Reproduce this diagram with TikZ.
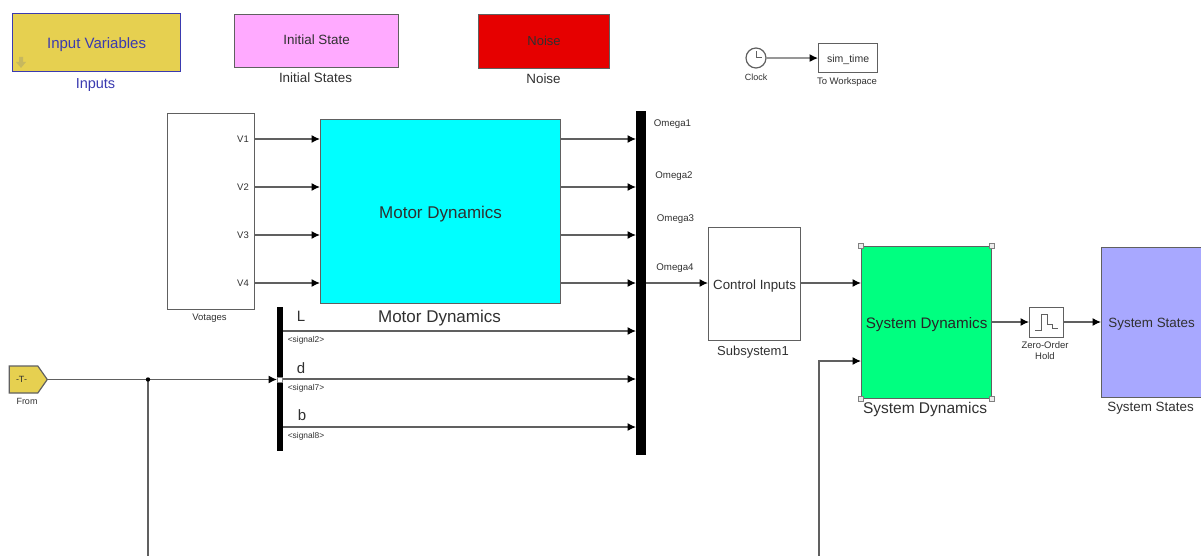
\documentclass[tikz,border=0pt]{standalone}
\usepackage{fontspec}
\setmainfont{Liberation Sans}
\usetikzlibrary{arrows.meta,shapes.geometric,shapes.symbols}
\definecolor{lineC}{HTML}{606060}
\definecolor{txtC}{HTML}{303030}
\definecolor{inputY}{HTML}{E6D050}
\definecolor{inputB}{HTML}{3A3AB0}
\definecolor{pinkC}{HTML}{FFAAFF}
\definecolor{redC}{HTML}{E60000}
\definecolor{greenC}{HTML}{00FF80}
\definecolor{violetC}{HTML}{A8A8FF}
\definecolor{cyanC}{HTML}{00FFFF}
\tikzset{
  x=1pt,y=-1pt,
  blockbox/.style={draw=lineC,line width=1.2pt,inner sep=0pt,anchor=north west,align=center,text=txtC},
  lbl/.style={inner sep=0pt,text=txtC,font=\fontsize{#1}{#1}\selectfont},
  lbl/.default=8,
  wire/.style={draw=lineC,line width=1.2pt},
  arr/.style={wire,-{Latex[length=8.5pt,width=8pt,black]}},
  handle/.style={draw=gray,fill=white!85!gray,line width=.7pt,minimum size=5pt,inner sep=0pt},
}
\newcommand{\blk}[7]{% name, x1, y1, x2, y2, style, text
  \pgfmathsetmacro{\bw}{#4-#2}\pgfmathsetmacro{\bh}{#5-#3}
  \node[blockbox,#6,minimum width=\bw pt,minimum height=\bh pt] (#1) at (#2,#3) {\raisebox{\dimexpr-0.36em-0.3pt}[0pt][0pt]{#7}};}
\begin{document}
\begin{tikzpicture}
\useasboundingbox (0,0) rectangle (1201,556);
% top row blocks
\blk{inputs}{12}{13}{180}{71}{fill=inputY,draw=inputB,text=inputB,font=\fontsize{15}{15}\selectfont}{Input Variables}
\node[lbl=14.5,text=inputB] (inputsL) at (95.5,85) {Inputs};
\fill[inputY!70!gray] (19,57) -- (23,57) -- (23,62) -- (26,62) -- (21,68) -- (16,62) -- (19,62) -- cycle;
\blk{initial}{234}{14}{398}{67}{fill=pinkC,font=\fontsize{13.4}{13.4}\selectfont}{\raisebox{2pt}{Initial State}}
\node[lbl=13.4] (initialL) at (315.5,78) {Initial States};
\blk{noise}{478}{14}{609}{68}{fill=redC,font=\fontsize{13}{13}\selectfont}{\raisebox{1pt}{Noise}}
\node[lbl=13.4] (noiseL) at (543.5,79) {Noise};
\node[draw=lineC,line width=1.2pt,circle,minimum size=20pt,inner sep=0pt] (clock) at (756,58) {};
\node[lbl=9] (clockL) at (756,77) {Clock};
\draw[lineC,line width=1pt] (756,51) -- (clock.center) -- (762,58);
\blk{work}{818}{43}{877}{72}{fill=white,font=\fontsize{10.5}{10.5}\selectfont}{sim\_time}
\node[lbl=9.5] (workL) at (847,82) {To Workspace};
\draw[arr] (clock) -- (work);
% main blocks
\blk{volt}{167}{113}{254}{309}{fill=white}{}
\node[lbl=9.5] (voltL) at (209.5,318) {Votages};
\blk{motor}{320}{119}{560}{303}{fill=cyanC,font=\fontsize{17}{17}\selectfont}{Motor Dynamics}
\node[lbl=17] (motorL) at (439.5,318) {Motor Dynamics};
\node[fill=black,minimum width=10pt,minimum height=344pt,inner sep=0pt,anchor=north west] (mux) at (636,111) {};
\node[fill=black,minimum width=6pt,minimum height=144pt,inner sep=0pt,anchor=north west] (bus) at (277,307) {};
\blk{ctrl}{708}{227}{800}{340}{fill=white,font=\fontsize{13.3}{13.3}\selectfont}{Control Inputs}
\node[lbl=13] (ctrlL) at (753,352) {Subsystem1};
\blk{sys}{861}{246}{991}{398}{fill=greenC,text=black!85,font=\fontsize{15.2}{15.2}\selectfont}{System Dynamics}
\node[lbl=15.5] (sysL) at (925,409.5) {System Dynamics};
\foreach \n/\a in {h1/north west,h2/north east,h3/south west,h4/south east}
  \node[handle] (\n) at (sys.\a) {};
\blk{zoh}{1029}{307}{1063}{337}{fill=white}{}
\draw[lineC,line width=1pt] (1035,330) -- (1041,330) -- (1041,314) -- (1047,314) -- (1047,324) -- (1052,324) -- (1052,328) -- (1058,328);
\node[lbl=9.5,align=center] (zohL) at (1045,350.5) {Zero-Order\\[1pt]Hold};
\blk{states}{1101}{247}{1201}{397}{fill=violetC,font=\fontsize{13.4}{13.4}\selectfont}{System States}
\node[lbl=13.4] (statesL) at (1150.5,408.5) {System States};
% From
\node[signal,signal to=east,signal pointer angle=110,draw=lineC,line width=1.2pt,fill=inputY,inner sep=0pt,minimum width=38pt,minimum height=27pt,anchor=east] (from) at (48,379.5) {};
\node[lbl=9] (fromT) at (21.5,379) {-T-};
\node[lbl=9] (fromL) at (27,401) {From};
% port coordinates
\foreach \i/\y in {1/139,2/187,3/235,4/283}{
  \coordinate (vo\i) at (254,\y);
  \coordinate (mi\i) at (320,\y);
  \coordinate (mo\i) at (560,\y);
  \coordinate (xi\i) at (636,\y);
  \node[lbl=9.5] (vl\i) at (243,\y) {V\i};
  \draw[arr] (vo\i) -- (mi\i);
  \draw[arr] (mo\i) -- (xi\i);
}
\foreach \i/\y/\t/\s/\tx/\ty in {5/331/L/2/301/316,6/379/d/7/301/368,7/427/b/8/302/415.5}{
  \coordinate (bo\i) at (283,\y);
  \coordinate (xi\i) at (636,\y);
  \draw[arr] (bo\i) -- (xi\i);
  \pgfmathsetmacro{\sy}{\y+9}
  \node[lbl=15] (t\i) at (\tx,\ty) {\t};
  \node[lbl=8.4] (s\i) at (306,\sy) {<signal\s>};
}
\node[lbl=9.7] (om1) at (672.5,123.7) {Omega1};
\node[lbl=9.7] (om2) at (674,175.7) {Omega2};
\node[lbl=9.7] (om3) at (675.5,219) {Omega3};
\node[lbl=9.7] (om4) at (675,268) {Omega4};
% outgoing wires
\coordinate (xo) at (646,283);
\coordinate (ci) at (708,283);
\coordinate (co) at (800,283);
\coordinate (si1) at (861,283);
\coordinate (si2) at (861,361);
\coordinate (so) at (991,322);
\coordinate (zi) at (1029,322);
\coordinate (zo) at (1063,322);
\coordinate (sti) at (1101,322);
\coordinate (b1) at (819,556);
\coordinate (b2) at (819,361);
\coordinate (bi) at (277,379.5);
\coordinate (j) at (148,379.5);
\coordinate (b3) at (148,556);
\draw[arr] (xo) -- (ci);
\draw[arr] (co) -- (si1);
\draw[arr] (b1) -- (b2) -- (si2);
\draw[arr] (so) -- (zi);
\draw[arr] (zo) -- (sti);
\draw[arr] (from.east) -- (bi);
\draw[wire] (j) -- (b3);
\fill[black] (j) circle (2.2pt);
\node[draw=gray,fill=white,line width=.6pt,minimum size=5pt,inner sep=0pt] (hb) at (280,379.5) {};
\end{tikzpicture}
\end{document}
